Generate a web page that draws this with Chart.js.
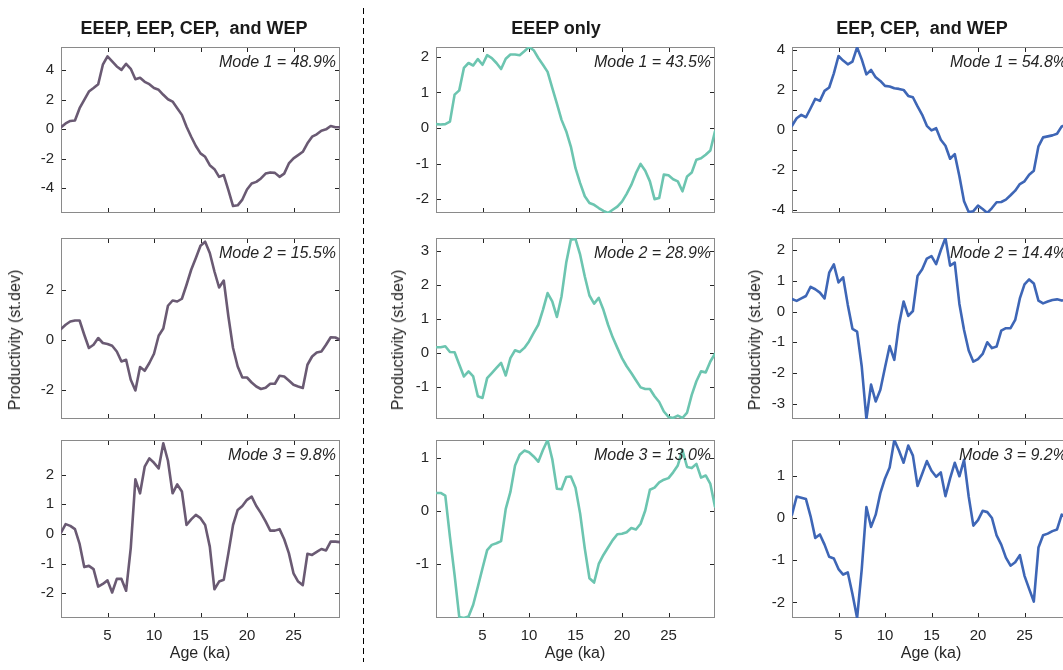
<!DOCTYPE html>
<html><head><meta charset="utf-8">
<script src="https://cdn.jsdelivr.net/npm/chart.js@4.4.1/dist/chart.umd.min.js"></script>
<style>
html,body{margin:0;padding:0;background:#fff;width:1063px;height:670px;overflow:hidden;}
#wrap{position:relative;width:1063px;height:670px;overflow:hidden;font-family:"Liberation Sans",Arial,Helvetica,sans-serif;color:#262626;}
canvas{position:absolute;}
.t{position:absolute;white-space:pre;z-index:5;}
.title{font-weight:bold;font-size:18px;line-height:22px;text-align:center;width:400px;color:#1a1a1a;}
.ann{font-style:italic;font-size:16px;line-height:16px;text-align:right;width:200px;}
.xl{font-size:16px;line-height:18px;text-align:center;width:200px;}
.yl{font-size:16px;line-height:16px;transform:translate(-50%,-50%) rotate(-90deg);}
</style></head><body><div id="wrap"></div>
<script>
// ---- data ----
const ages = [0,0.5,1,1.5,2,2.5,3,3.5,4,4.5,5,5.5,6,6.5,7,7.5,8,8.5,9,9.5,10,10.5,11,11.5,12,12.5,13,13.5,14,14.5,15,15.5,16,16.5,17,17.5,18,18.5,19,19.5,20,20.5,21,21.5,22,22.5,23,23.5,24,24.5,25,25.5,26,26.5,27,27.5,28,28.5,29,29.5,30];

const allMode1 = [0.14,0.4,0.57,0.6,1.43,2.0,2.56,2.8,3.06,4.38,4.94,4.6,4.26,4.03,4.44,4.1,3.4,3.5,3.22,3.06,2.8,2.68,2.34,2.04,1.88,1.43,0.98,0.18,-0.5,-1.13,-1.63,-1.86,-2.43,-2.7,-3.22,-3.1,-4.12,-5.2,-5.15,-4.76,-4.08,-3.67,-3.56,-3.33,-3.0,-2.92,-2.95,-3.22,-3.0,-2.31,-1.97,-1.75,-1.52,-0.95,-0.5,-0.34,-0.09,0.0,0.23,0.14,0.14];
const allMode2 = [0.43,0.6,0.73,0.77,0.77,0.2,-0.33,-0.2,0.07,-0.13,-0.17,-0.24,-0.47,-0.87,-0.8,-1.6,-2.03,-1.09,-1.24,-0.93,-0.56,0.16,0.45,1.36,1.57,1.53,1.64,2.2,2.8,3.27,3.76,3.92,3.47,2.73,2.09,2.37,0.93,-0.33,-1.07,-1.51,-1.51,-1.71,-1.87,-1.97,-1.92,-1.76,-1.76,-1.44,-1.47,-1.63,-1.8,-1.87,-1.93,-1.0,-0.67,-0.51,-0.47,-0.2,0.1,0.09,0.0];
const allMode3 = [0.04,0.33,0.27,0.16,-0.34,-1.12,-1.08,-1.19,-1.78,-1.69,-1.57,-1.98,-1.52,-1.52,-1.92,-0.48,1.84,1.37,2.27,2.55,2.4,2.21,3.06,2.47,1.37,1.67,1.43,0.3,0.49,0.64,0.53,0.3,-0.43,-1.87,-1.61,-1.55,-0.65,0.3,0.81,0.94,1.15,1.26,0.94,0.7,0.42,0.11,0.11,0.16,-0.18,-0.65,-1.33,-1.61,-1.73,-0.67,-0.71,-0.61,-0.51,-0.56,-0.26,-0.26,-0.28];

const eeepMode1 = [0.11,0.1,0.11,0.18,0.94,1.06,1.69,1.83,1.76,1.94,1.78,2.05,1.97,1.83,1.66,1.95,2.07,2.07,2.05,2.16,2.28,2.19,1.97,1.78,1.58,1.13,0.69,0.23,-0.09,-0.52,-1.13,-1.55,-1.92,-2.11,-2.16,-2.25,-2.33,-2.39,-2.3,-2.21,-2.07,-1.85,-1.6,-1.27,-1.01,-1.2,-1.5,-2.0,-1.97,-1.31,-1.33,-1.44,-1.5,-1.78,-1.36,-1.25,-0.89,-0.85,-0.75,-0.63,-0.09];
const eeepMode2 = [0.17,0.17,0.2,0.03,0.02,-0.34,-0.69,-0.54,-0.69,-1.27,-1.32,-0.74,-0.59,-0.44,-0.29,-0.66,-0.15,0.08,0.03,0.15,0.34,0.59,0.83,1.27,1.76,1.52,1.06,1.67,2.65,3.33,3.35,2.89,2.25,1.69,1.45,1.62,1.27,0.83,0.46,0.15,-0.15,-0.39,-0.59,-0.8,-1.01,-1.06,-1.06,-1.27,-1.44,-1.72,-1.88,-1.91,-1.84,-1.91,-1.75,-1.23,-0.83,-0.54,-0.57,-0.25,-0.02];
const eeepMode3 = [0.34,0.34,0.29,-0.49,-1.21,-2.0,-2.02,-1.99,-1.77,-1.43,-1.08,-0.74,-0.64,-0.61,-0.57,0.04,0.36,0.86,1.06,1.14,1.11,1.03,0.93,1.15,1.34,0.98,0.42,0.41,0.64,0.65,0.44,-0.05,-0.71,-1.27,-1.35,-1.0,-0.83,-0.69,-0.55,-0.44,-0.43,-0.4,-0.32,-0.35,-0.24,0.01,0.4,0.44,0.54,0.59,0.62,0.73,0.86,1.15,0.83,0.81,0.89,0.63,0.67,0.51,0.08];

const westMode1 = [0.2,0.58,0.75,0.63,1.08,1.55,1.45,1.95,2.12,2.83,3.7,3.47,3.28,3.42,4.13,3.53,2.78,3.0,2.63,2.45,2.2,2.17,2.08,2.05,2.0,1.7,1.63,1.17,0.75,0.2,-0.03,0.08,-0.5,-0.8,-1.45,-1.22,-2.33,-3.58,-4.12,-4.08,-3.8,-3.97,-4.17,-3.92,-3.63,-3.62,-3.5,-3.28,-3.05,-2.72,-2.58,-2.25,-2.05,-0.83,-0.38,-0.33,-0.28,-0.2,0.17,0.25,0.3];
const westMode2 = [0.41,0.35,0.43,0.51,0.81,0.73,0.62,0.43,1.27,1.54,0.95,1.12,0.22,-0.56,-0.65,-1.79,-3.5,-2.38,-2.93,-2.55,-1.82,-1.12,-1.57,-0.43,0.33,-0.14,0.02,1.16,1.38,1.73,1.81,1.55,2.0,2.4,1.5,1.6,0.25,-0.6,-1.27,-1.63,-1.55,-1.38,-1.0,-1.19,-1.14,-0.62,-0.54,-0.54,-0.27,0.43,0.89,1.05,0.92,0.36,0.27,0.33,0.38,0.4,0.36,0.38,0.38];
const westMode3 = [0.08,0.51,0.48,0.45,0.04,-0.47,-0.39,-0.63,-0.92,-0.96,-1.21,-1.34,-1.29,-1.8,-2.37,-1.21,0.26,-0.21,0.08,0.59,0.94,1.2,1.85,1.6,1.31,1.72,1.48,0.76,1.05,1.35,1.12,0.98,1.08,0.52,0.94,1.31,0.99,1.38,0.51,-0.18,-0.05,0.17,0.14,0.0,-0.41,-0.63,-0.94,-1.13,-1.05,-0.88,-1.37,-1.68,-1.98,-0.7,-0.41,-0.37,-0.31,-0.27,0.08,0.0,0.0];

const columnTitles = ["EEEP, EEP, CEP,  and WEP", "EEEP only", "EEP, CEP,  and WEP"];
const modeLabels = [
  ["Mode 1 = 48.9%", "Mode 2 = 15.5%", "Mode 3 = 9.8%"],
  ["Mode 1 = 43.5%", "Mode 2 = 28.9%", "Mode 3 = 13.0%"],
  ["Mode 1 = 54.8%", "Mode 2 = 14.4%", "Mode 3 = 9.2%"]
];
const xTicks = [5, 10, 15, 20, 25];
const yTicksAll = [[-4,-2,0,2,4], [-2,0,2], [-2,-1,0,1,2]];
const yTicksEeep = [[-2,-1,0,1,2], [-1,0,1,2,3], [-1,0,1]];
const yTicksWest = [[-4,-3,-2,-1,0,1,2,3,4], [-3,-2,-1,0,1,2], [-2,-1,0,1]];
const yLabelsWest1 = [-4,-2,0,2,4];
const xTitle = "Age (ka)";
const yTitle = "Productivity (st.dev)";

// ---- layout / style ----
const colLeft = [61, 436, 792];
const plotW = 279;
const rowTop = [47, 238, 440];
const rowH = [166, 181, 178];
const colors = ['#6a5a73', '#6cc5b0', '#3e66b6'];
const FONT = '"Liberation Sans", Arial, Helvetica, sans-serif';

const panels = [
  {col:0,row:0,v:allMode1,lim:[-5.67,5.58],yt:yTicksAll[0]},
  {col:0,row:1,v:allMode2,lim:[-3.17,4.07],yt:yTicksAll[1]},
  {col:0,row:2,v:allMode3,lim:[-2.84,3.17],yt:yTicksAll[2]},
  {col:1,row:0,v:eeepMode1,lim:[-2.39,2.28],yt:yTicksEeep[0]},
  {col:1,row:1,v:eeepMode2,lim:[-1.94,3.38],yt:yTicksEeep[1]},
  {col:1,row:2,v:eeepMode3,lim:[-2.02,1.34],yt:yTicksEeep[2]},
  {col:2,row:0,v:westMode1,lim:[-4.17,4.15],yt:yTicksWest[0],yl:yLabelsWest1},
  {col:2,row:1,v:westMode2,lim:[-3.5,2.4],yt:yTicksWest[1]},
  {col:2,row:2,v:westMode3,lim:[-2.37,1.85],yt:yTicksWest[2]}
];

const boxPlugin = {
  id: 'matlabBox',
  beforeDatasetsDraw(chart) {
    const {ctx, chartArea: a, scales: {x, y}} = chart;
    ctx.save();
    ctx.lineWidth = 1;
    ctx.strokeStyle = '#262626';
    ctx.beginPath();
    x.ticks.forEach(t => {
      const px = Math.round(x.getPixelForValue(t.value)) + 0.5;
      ctx.moveTo(px, a.top); ctx.lineTo(px, a.top + 5);
      ctx.moveTo(px, a.bottom); ctx.lineTo(px, a.bottom - 5);
    });
    y.ticks.forEach(t => {
      const py = Math.round(y.getPixelForValue(t.value)) + 0.5;
      ctx.moveTo(a.left, py); ctx.lineTo(a.left + 5, py);
      ctx.moveTo(a.right, py); ctx.lineTo(a.right - 5, py);
    });
    ctx.stroke();
    ctx.strokeStyle = '#8a8a8a';
    ctx.strokeRect(a.left + 0.5, a.top + 0.5, a.right - a.left - 1, a.bottom - a.top - 1);
    ctx.restore();
  }
};

const wrap = document.getElementById('wrap');

panels.forEach(p => {
  const pl = colLeft[p.col], pt = rowTop[p.row], ph = rowH[p.row];
  const W = 50 + plotW + 15, H = 20 + ph + 40;
  const cv = document.createElement('canvas');
  cv.width = W; cv.height = H;
  cv.style.left = (pl - 50) + 'px'; cv.style.top = (pt - 20) + 'px';
  cv.style.width = W + 'px'; cv.style.height = H + 'px';
  wrap.appendChild(cv);
  const showX = p.row === 2;
  const labelSet = p.yl || p.yt;
  new Chart(cv, {
    type: 'line',
    data: { datasets: [{
      data: ages.map((a, i) => ({x: a, y: p.v[i]})),
      borderColor: colors[p.col], borderWidth: 2.6, pointRadius: 0, tension: 0, fill: false,
      borderJoinStyle: 'round', borderCapStyle: 'round'
    }]},
    options: {
      responsive: false, animation: false, devicePixelRatio: 1,
      layout: { padding: { top: 20, right: 15, left: 0, bottom: 0 } },
      plugins: { legend: {display: false}, tooltip: {enabled: false}, title: {display: false} },
      events: [],
      scales: {
        x: {
          type: 'linear', min: 0, max: 30,
          afterBuildTicks: s => { s.ticks = xTicks.map(v => ({value: v})); },
          afterFit: s => { s.height = 40; },
          grid: {display: false, drawTicks: false}, border: {display: false},
          ticks: {display: showX, padding: 9, color: '#262626', font: {family: FONT, size: 15}, maxRotation: 0, autoSkip: false,
                  callback: v => String(v)}
        },
        y: {
          type: 'linear', min: p.lim[0], max: p.lim[1],
          afterBuildTicks: s => { s.ticks = p.yt.map(v => ({value: v})); },
          afterFit: s => { s.width = 50; },
          grid: {display: false, drawTicks: false}, border: {display: false},
          ticks: {padding: 7, color: '#262626', font: {family: FONT, size: 15}, autoSkip: false,
                  callback: v => labelSet.includes(v) ? String(v) : ''}
        }
      }
    },
    plugins: [boxPlugin]
  });
});

function addText(cls, txt, style) {
  const d = document.createElement('div');
  d.className = 't ' + cls;
  d.textContent = txt;
  Object.assign(d.style, style);
  wrap.appendChild(d);
}

// column titles
const titleCenters = [194, 556, 922];
columnTitles.forEach((t, i) => addText('title', t, {left: (titleCenters[i] - 200) + 'px', top: '17px'}));

// mode annotations
for (let c = 0; c < 3; c++) for (let r = 0; r < 3; r++) {
  const right = colLeft[c] + plotW - 4;
  addText('ann', modeLabels[c][r], {left: (right - 200) + 'px', top: (rowTop[r] + 14.5 - 8) + 'px'});
}

// axis titles
const xCenters = [200, 575, 931];
xCenters.forEach(cx => addText('xl', xTitle, {left: (cx - 100) + 'px', top: '644px'}));
const yCenters = [15, 398, 755];
yCenters.forEach(cx => addText('yl', yTitle, {left: cx + 'px', top: '340px'}));

// dashed separator
const svgNS = 'http://www.w3.org/2000/svg';
const svg = document.createElementNS(svgNS, 'svg');
svg.setAttribute('width', '10'); svg.setAttribute('height', '670');
svg.style.position = 'absolute'; svg.style.left = '358px'; svg.style.top = '0px';
const ln = document.createElementNS(svgNS, 'line');
ln.setAttribute('x1', '5.5'); ln.setAttribute('x2', '5.5');
ln.setAttribute('y1', '8'); ln.setAttribute('y2', '662');
ln.setAttribute('stroke', '#000'); ln.setAttribute('stroke-width', '1');
ln.setAttribute('stroke-dasharray', '6,4');
svg.appendChild(ln);
wrap.appendChild(svg);
</script>
</body></html>
